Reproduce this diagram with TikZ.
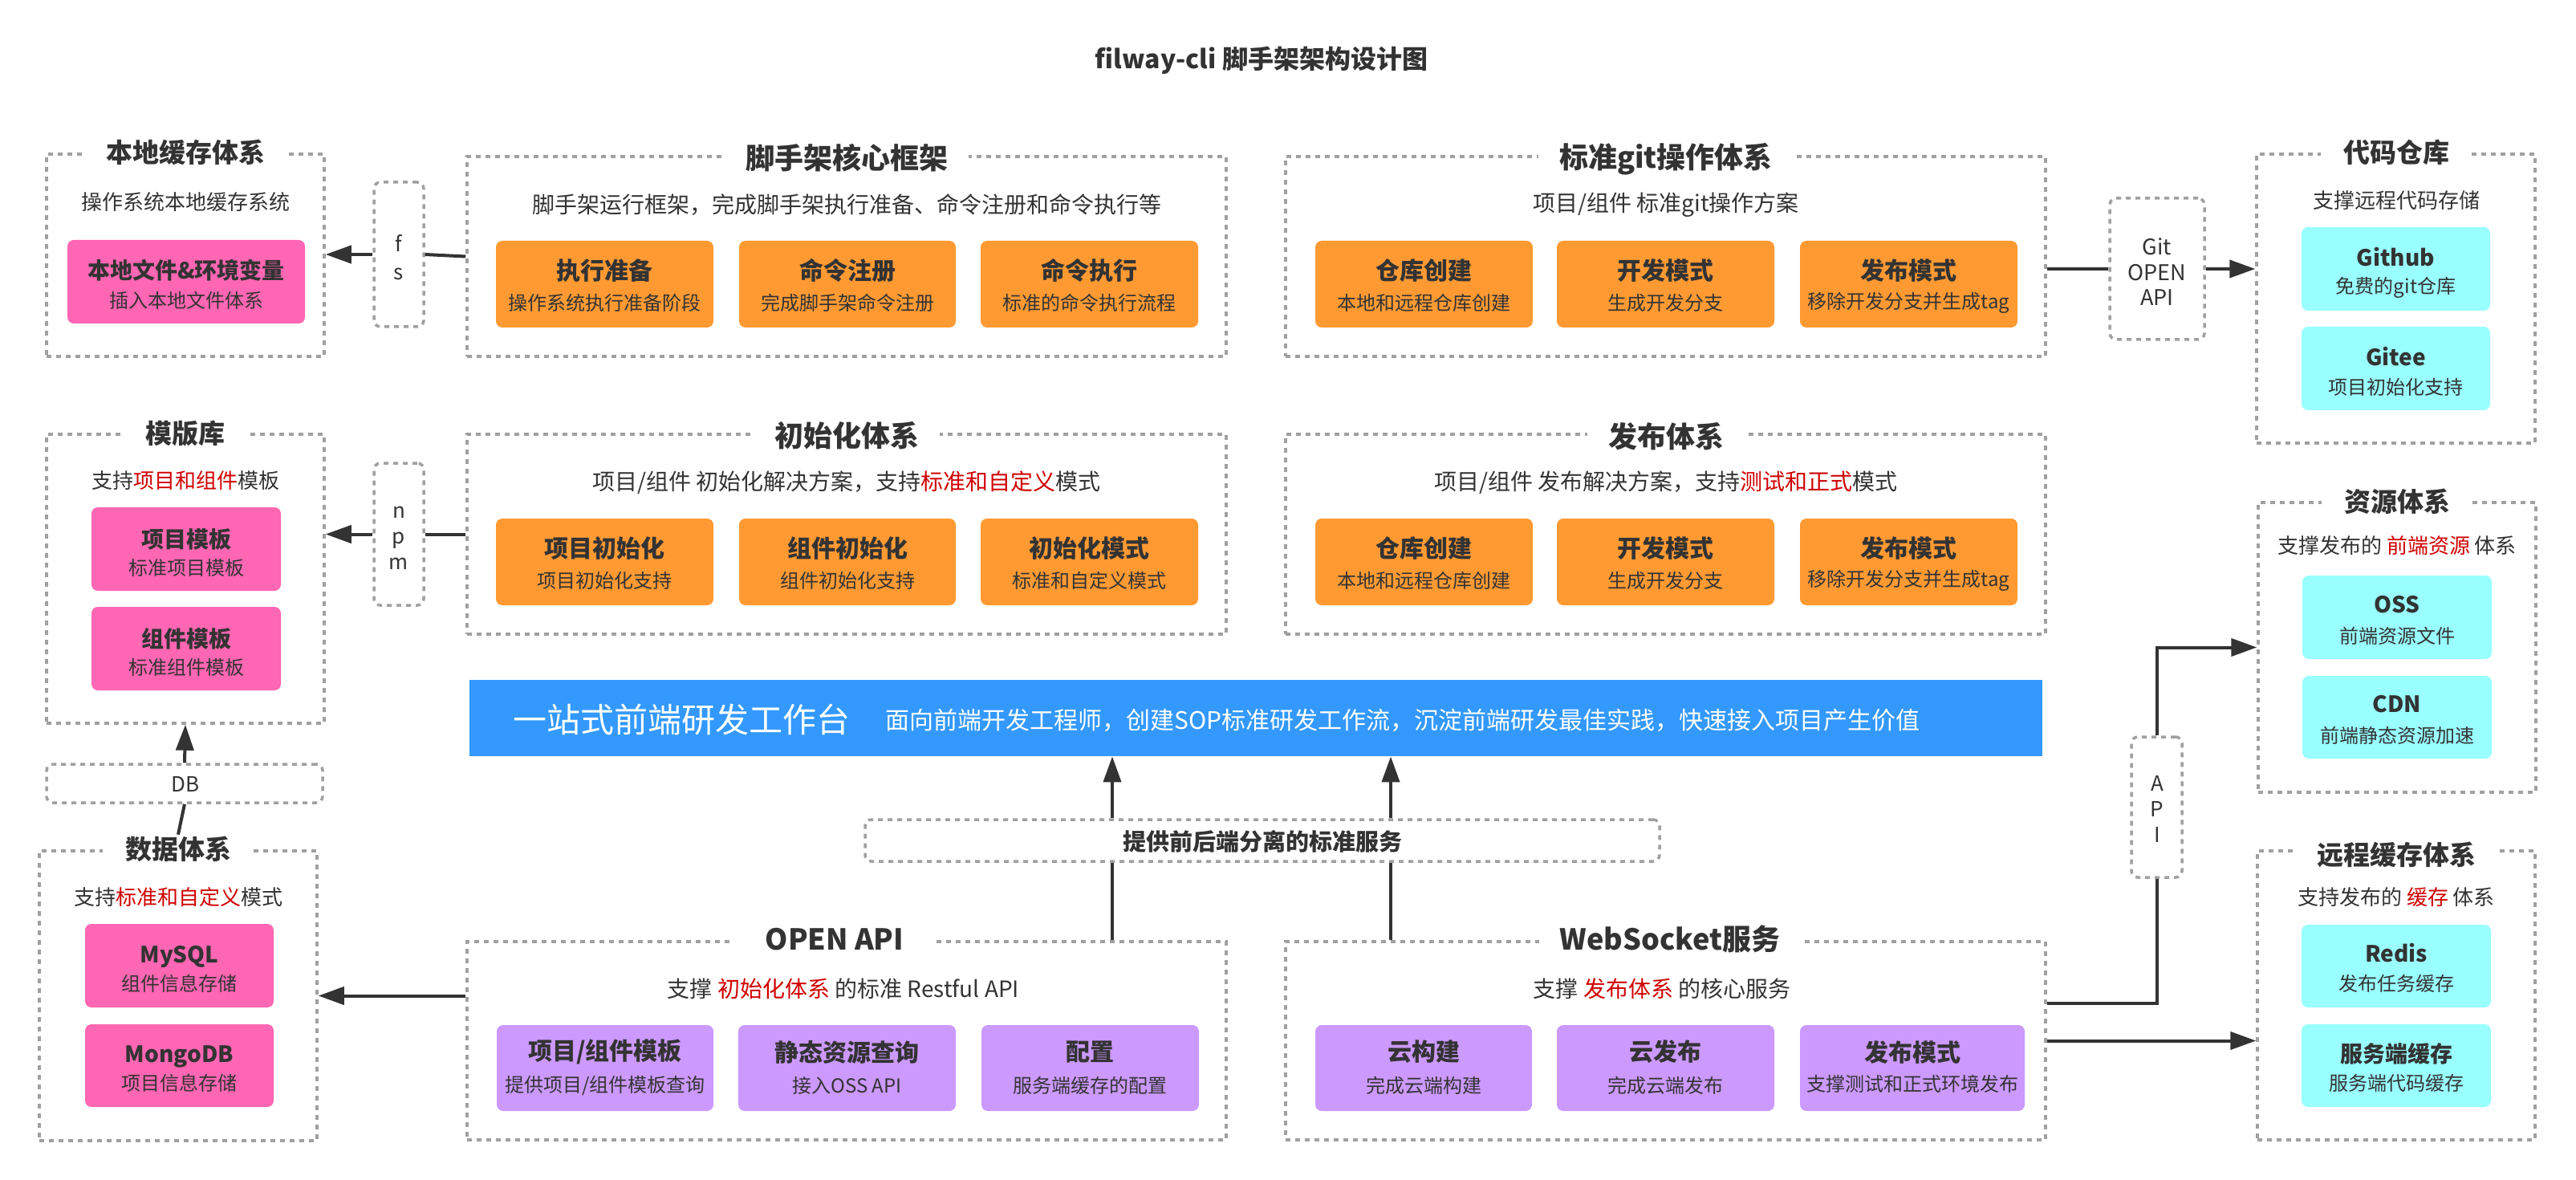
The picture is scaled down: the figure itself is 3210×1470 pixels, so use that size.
\documentclass[tikz,border=0pt]{standalone}
\usepackage{fontspec}
\setmainfont{Noto Sans CJK SC}
\usetikzlibrary{arrows.meta,fit,calc}
\definecolor{tc}{HTML}{333333}
\definecolor{lc}{HTML}{333333}
\definecolor{dg}{HTML}{A0A0A0}
\definecolor{redc}{HTML}{D00000}
\definecolor{orangec}{HTML}{FF9A33}
\definecolor{pinkc}{HTML}{FF66B3}
\definecolor{cyanc}{HTML}{99FFFF}
\definecolor{purplec}{HTML}{CC99FF}
\definecolor{bluec}{HTML}{3399FF}
\newcommand{\rd}[1]{{\color{redc}#1}}
\begin{document}
\begin{tikzpicture}[x=0.5pt,y=-0.5pt,
  grp/.style={draw=dg, line width=1.75pt, dash pattern=on 3pt off 3pt, inner sep=0pt},
  sgrp/.style={grp, rounded corners=4pt},
  gtitle/.style={fill=white, inner xsep=13pt, inner ysep=1pt, text=tc, font=\bfseries\fontsize{18}{21}\selectfont},
  stitle/.style={gtitle, inner xsep=14pt, font=\bfseries\fontsize{16.5}{19}\selectfont},
  gsub/.style={text=tc, inner sep=0pt, font=\fontsize{14}{17}\selectfont},
  ssub/.style={text=tc, inner sep=0pt, font=\fontsize{13}{16}\selectfont},
  card/.style={rounded corners=4pt, inner sep=0pt},
  ocard/.style={card, fill=orangec},
  pcard/.style={card, fill=purplec},
  kcard/.style={card, fill=pinkc},
  ccard/.style={card, fill=cyanc},
  cmain/.style={text=tc, inner sep=0pt, font=\bfseries\fontsize{15}{18}\selectfont},
  csub/.style={text=tc, inner sep=0pt, font=\fontsize{12}{14}\selectfont},
  conn/.style={draw=lc, line width=2pt},
  arr/.style={conn, -{Triangle[length=16pt,width=11pt]}},
  lbl/.style={text=tc, align=center, inner sep=0pt, font=\fontsize{13}{16}\selectfont}
]
\useasboundingbox[fill=white] (0,0) rectangle (3210,1470);
\newcommand{\mkcard}[7]{%
  \node (#1) [#2, fit={#3}] {};
  \node (#1m) [cmain] at ($(#1.center)+(0,#6)$) {#4};
  \node (#1s) [csub] at ($(#1.center)+(0,#7)$) {#5};
}
\newcommand{\ms}[1]{{\fontsize{14}{17}\selectfont #1}}

% title
\node[text=tc, font=\bfseries\fontsize{16}{19}\selectfont] (title) at (1572,75) {filway-cli 脚手架架构设计图};

% ---------- left column ----------
\node (cache) [grp, fit={(58,192) (404,444)}] {};
\node (cacheT) [stitle] at (231,190) {本地缓存体系};
\node (cacheS) [ssub] at (231,252) {操作系统本地缓存系统};
\mkcard{cache1}{kcard}{(84,299) (380,403)}{\ms{本地文件\&环境变量}}{插入本地文件体系}{-14}{23}

\node (tpl) [grp, fit={(58,541) (404,901)}] {};
\node (tplT) [stitle] at (231,540) {模版库};
\node (tplS) [ssub] at (231,599) {支持\rd{项目和组件}模板};
\mkcard{tpl1}{kcard}{(114,632) (350,736)}{\ms{项目模板}}{标准项目模板}{-12}{23}
\mkcard{tpl2}{kcard}{(114,756) (350,860)}{\ms{组件模板}}{标准组件模板}{-12}{23}

\node (db) [sgrp, fit={(58,952) (402,1000)}] {};
\node (dbL) [lbl] at (231,977) {DB};

\node (data) [grp, fit={(49,1060) (395,1421)}] {};
\node (dataT) [stitle] at (222,1058) {数据体系};
\node (dataS) [ssub] at (222,1118) {支持\rd{标准和自定义}模式};
\mkcard{data1}{kcard}{(106,1151) (341,1255)}{\ms{MySQL}}{组件信息存储}{-11}{22}
\mkcard{data2}{kcard}{(106,1276) (341,1379)}{\ms{MongoDB}}{项目信息存储}{-11}{22}

% small connector boxes
\node (fs) [sgrp, fit={(466,227) (528,407)}] {};
\node (fsL) [lbl, font=\fontsize{13}{17.5}\selectfont] at (497,321) {f\\s};
\node (npm) [sgrp, fit={(466,577) (528,754)}] {};
\node (npmL) [lbl, font=\fontsize{13}{16}\selectfont] at (497,670) {n\\p\\m};

% ---------- center ----------
\node (core) [grp, fit={(582,195) (1528,444)}] {};
\node (coreT) [gtitle] at (1055,197) {脚手架核心框架};
\node (coreS) [gsub] at (1055,255) {脚手架运行框架，完成脚手架执行准备、命令注册和命令执行等};
\mkcard{c1}{ocard}{(618,300) (889,408)}{执行准备}{操作系统执行准备阶段}{-17}{23}
\mkcard{c2}{ocard}{(921,300) (1191,408)}{命令注册}{完成脚手架命令注册}{-17}{23}
\mkcard{c3}{ocard}{(1222,300) (1493,408)}{命令执行}{标准的命令执行流程}{-17}{23}

\node (git) [grp, fit={(1602,195) (2549,444)}] {};
\node (gitT) [gtitle] at (2076,198) {标准git操作体系};
\node (gitS) [gsub] at (2076,255) {项目/组件 标准git操作方案};
\mkcard{g1}{ocard}{(1639,300) (1910,408)}{仓库创建}{本地和远程仓库创建}{-17}{23}
\mkcard{g2}{ocard}{(1940,300) (2211,408)}{开发模式}{生成开发分支}{-17}{23}
\mkcard{g3}{ocard}{(2243,300) (2514,408)}{发布模式}{移除开发分支并生成tag}{-17}{23}

\node (init) [grp, fit={(582,541) (1528,790)}] {};
\node (initT) [gtitle] at (1055,543) {初始化体系};
\node (initS) [gsub] at (1055,601) {项目/组件 初始化解决方案，支持\rd{标准和自定义}模式};
\mkcard{i1}{ocard}{(618,646) (889,754)}{项目初始化}{项目初始化支持}{-17}{23}
\mkcard{i2}{ocard}{(921,646) (1191,754)}{组件初始化}{组件初始化支持}{-17}{23}
\mkcard{i3}{ocard}{(1222,646) (1493,754)}{初始化模式}{标准和自定义模式}{-17}{23}

\node (pub) [grp, fit={(1602,541) (2549,790)}] {};
\node (pubT) [gtitle] at (2076,544) {发布体系};
\node (pubS) [gsub] at (2076,601) {项目/组件 发布解决方案，支持\rd{测试和正式}模式};
\mkcard{p1}{ocard}{(1639,646) (1910,754)}{仓库创建}{本地和远程仓库创建}{-17}{23}
\mkcard{p2}{ocard}{(1940,646) (2211,754)}{开发模式}{生成开发分支}{-17}{23}
\mkcard{p3}{ocard}{(2243,646) (2514,754)}{发布模式}{移除开发分支并生成tag}{-17}{23}

\node (bar) [fill=bluec, inner sep=0pt, fit={(585,847) (2545,942)}] {};
\node (barA) [anchor=west, text=white, inner sep=0pt, font=\fontsize{21}{24}\selectfont] at (639,897) {一站式前端研发工作台};
\node (barB) [anchor=west, text=white, inner sep=0pt, font=\fontsize{15}{18}\selectfont] at (1103,897) {面向前端开发工程师，创建SOP标准研发工作流，沉淀前端研发最佳实践，快速接入项目产生价值};

\node (svc) [sgrp, fit={(1078,1021) (2068,1073)}] {};
\node (svcL) [text=tc, inner sep=0pt, font=\bfseries\fontsize{14.5}{17}\selectfont] at (1573,1048) {提供前后端分离的标准服务};

\node (oapi) [grp, fit={(582,1173) (1528,1420)}] {};
\node (oapiT) [gtitle, inner xsep=20pt] at (1040,1170) {OPEN API};
\node (oapiS) [gsub] at (1051,1232) {支撑 \rd{初始化体系} 的标准 Restful API};
\mkcard{o1}{pcard}{(619,1277) (889,1384)}{项目/组件模板}{提供项目/组件模板查询}{-20}{22}
\mkcard{o2}{pcard}{(920,1277) (1191,1384)}{静态资源查询}{接入OSS API}{-20}{22}
\mkcard{o3}{pcard}{(1223,1277) (1494,1384)}{配置}{服务端缓存的配置}{-20}{22}

\node (ws) [grp, fit={(1602,1173) (2549,1420)}] {};
\node (wsT) [gtitle] at (2081,1170) {WebSocket服务};
\node (wsS) [gsub] at (2071,1232) {支撑 \rd{发布体系} 的核心服务};
\mkcard{w1}{pcard}{(1639,1277) (1909,1384)}{云构建}{完成云端构建}{-20}{22}
\mkcard{w2}{pcard}{(1940,1277) (2211,1384)}{云发布}{完成云端发布}{-20}{22}
\mkcard{w3}{pcard}{(2243,1277) (2523,1384)}{发布模式}{支撑测试和正式环境发布}{-20}{20}

% ---------- right column ----------
\node (gapi) [sgrp, fit={(2629,247) (2747,423)}] {};
\node (gapiL) [lbl, font=\fontsize{13.5}{15.75}\selectfont] at (2688,339) {Git\\OPEN\\API};

\node (repo) [grp, fit={(2812,192) (3159,552)}] {};
\node (repoT) [stitle] at (2986,190) {代码仓库};
\node (repoS) [ssub] at (2986,250) {支撑远程代码存储};
\mkcard{r1}{ccard}{(2868,283) (3103,387)}{\ms{Github}}{免费的git仓库}{-15}{23}
\mkcard{r2}{ccard}{(2868,407) (3103,511)}{\ms{Gitee}}{项目初始化支持}{-15}{23}

\node (res) [grp, fit={(2814,626) (3160,987)}] {};
\node (resT) [stitle] at (2987,625) {资源体系};
\node (resS) [ssub] at (2987,680) {支撑发布的 \rd{前端资源} 体系};
\mkcard{s1}{ccard}{(2869,717) (3105,821)}{\ms{OSS}}{前端资源文件}{-16}{23}
\mkcard{s2}{ccard}{(2869,842) (3105,945)}{\ms{CDN}}{前端静态资源加速}{-16}{23}

\node (api) [sgrp, fit={(2656,918) (2719,1093)}] {};
\node (apiL) [lbl, font=\fontsize{13}{16}\selectfont] at (2688,1008) {A\\P\\I};

\node (rc) [grp, fit={(2813,1060) (3159,1420)}] {};
\node (rcT) [stitle] at (2986,1065) {远程缓存体系};
\node (rcS) [ssub] at (2986,1118) {支持发布的 \rd{缓存} 体系};
\mkcard{k1}{ccard}{(2868,1152) (3104,1255)}{\ms{Redis}}{发布任务缓存}{-16}{22}
\mkcard{k2}{ccard}{(2868,1276) (3104,1379)}{\ms{服务端缓存}}{服务端代码缓存}{-15}{22}

% ---------- connectors ----------
\draw[conn] (core.west) -- (fs.east);
\draw[arr] (fs.west) -- (fs.west -| cache.east);
\draw[conn] (init.west) -- (npm.east);
\draw[arr] (npm.west) -- (npm.west -| tpl.east);
\draw[arr] (db.north) -- (tpl.south);
\draw[conn] (dataT.north) -- (db.south);
\draw[arr] (oapi.west |- data.east) -- (data.east);
\draw[conn] (gapi.west -| git.east) -- (gapi.west);
\draw[arr] (gapi.east) -- (gapi.east -| repo.west);
\draw[conn] ([xshift=165.5pt]oapi.north) -- ([xshift=165.5pt]oapi.north |- svc.south);
\draw[arr] ([xshift=165.5pt]oapi.north |- svc.north) -- ([xshift=165.5pt]oapi.north |- bar.south);
\draw[conn] ([xshift=-171.25pt]ws.north) -- ([xshift=-171.25pt]ws.north |- svc.south);
\draw[arr] ([xshift=-171.25pt]ws.north |- svc.north) -- ([xshift=-171.25pt]ws.north |- bar.south);
\draw[conn] ([yshift=23.25pt]ws.east) -| (api.south);
\draw[arr] (api.north) |- (res.west);
\draw[arr] (ws.east) -- (ws.east -| rc.west);
\end{tikzpicture}
\end{document}
